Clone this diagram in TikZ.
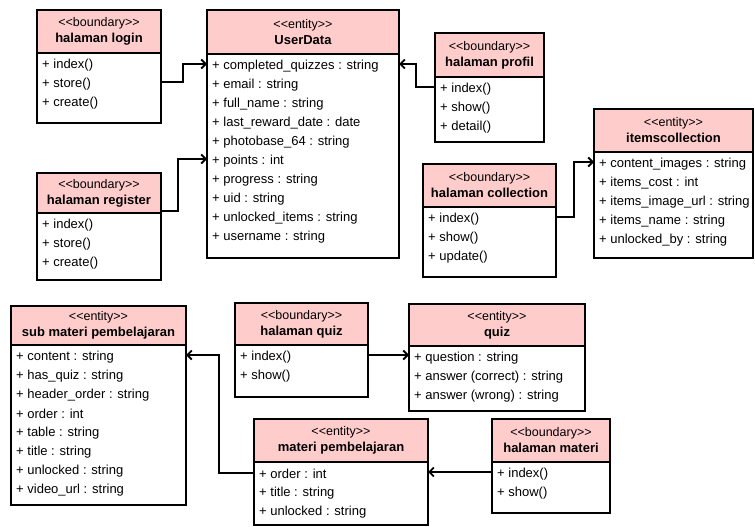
\documentclass[tikz,border=0pt]{standalone}
\usepackage{fontspec}
\setmainfont{Liberation Sans}
\usetikzlibrary{arrows.meta,calc}
\definecolor{hdrpink}{HTML}{FFCCCC}
\tikzset{
  hdr/.style={draw=black, fill=hdrpink, line width=2pt, rectangle, inner sep=0pt, outer sep=0pt, align=center, font=\fontsize{12.5}{16}\selectfont},
  bodybox/.style={draw=black, fill=white, line width=2pt, rectangle, inner sep=0pt, outer sep=0pt},
  rowtext/.style={inner sep=0pt, anchor=west, font=\fontsize{13}{15}\selectfont},
  conn/.style={draw=black, line width=1.8pt, -{Straight Barb[length=4.5pt,width=9pt,line width=1.8pt]}},
}
\newcommand{\umlclass}[9]{%
  \node[hdr, minimum width={#3-#2}, minimum height={#5-#4}, anchor=north west] (#1) at (#2,#4)
    {\fontsize{12.5}{16}\selectfont <\kern0pt<#7>\kern0pt>\\ \fontsize{13}{16}\selectfont\bfseries #8};
  \node[bodybox, minimum width={#3-#2}, minimum height={#6-#5}, anchor=north west] (#1b) at (#1.south west) {};
  \foreach \r [count=\i from 0] in {#9}
    \node[rowtext] at ([xshift=5pt, yshift={-(12+19*\i)}]#1b.north west) {\r};
}
\begin{document}
\begin{tikzpicture}[x=1pt,y=-1pt]
\useasboundingbox (0,0) rectangle (755,527);

\umlclass{login}{37}{161}{10}{53}{123}{boundary}{halaman login}{+ index(), + store(), + create()}
\umlclass{user}{207}{399}{10}{54}{258}{entity}{UserData}{%
  + completed\_quizzes : string, + email : string, + full\_name : string,
  + last\_reward\_date : date, + photobase\_64 : string, + points : int,
  + progress : string, + uid : string, + unlocked\_items : string, + username : string}
\umlclass{register}{37}{161}{173}{213}{280}{boundary}{halaman register}{+ index(), + store(), + create()}
\umlclass{profil}{435}{544}{33}{77}{142}{boundary}{halaman profil}{+ index(), + show(), + detail()}
\umlclass{collection}{423}{556}{164}{207}{277}{boundary}{halaman collection}{+ index(), + show(), + update()}
\umlclass{items}{594}{753}{109}{152}{258}{entity}{itemscollection}{%
  + content\_images : string, + items\_cost : int, + items\_image\_url : string,
  + items\_name : string, + unlocked\_by : string}
\umlclass{submateri}{11}{186}{306}{345}{505}{entity}{sub materi pembelajaran}{%
  + content : string, + has\_quiz : string, + header\_order : string, + order : int,
  + table : string, + title : string, + unlocked : string, + video\_url : string}
\umlclass{hquiz}{235}{368}{303}{345}{397}{boundary}{halaman quiz}{+ index(), + show()}
\umlclass{quiz}{409}{585}{304}{346}{411}{entity}{quiz}{%
  + question : string, + answer (correct) : string, + answer (wrong) : string}
\umlclass{materi}{254}{428}{419}{462}{525}{entity}{materi pembelajaran}{%
  + order : int, + title : string, + unlocked : string}
\umlclass{hmateri}{492}{610}{419}{462}{513}{boundary}{halaman materi}{+ index(), + show()}

% connectors
\draw[conn] ([yshift=-29pt]loginb.north east) -- ++(22,0) |- ([yshift=-10pt]userb.north west);
\draw[conn] ([yshift=2pt]registerb.north east) -- ++(17,0) |- ([yshift=-105pt]userb.north west);
\draw[conn] ([yshift=-10pt]profilb.north west) -- ++(-19,0) |- ([yshift=-10pt]userb.north east);
\draw[conn] ([yshift=-10pt]collectionb.north east) -- ++(18,0) |- ([yshift=-10pt]itemsb.north west);
\coordinate (qs) at ([yshift=-10pt]hquizb.north east);
\draw[conn] (qs) -- (qs -| quizb.west);
\draw[conn] ([yshift=-11pt]materib.north west) -- ++(-35,0) |- ([yshift=-10pt]submaterib.north east);
\coordinate (ms) at ([yshift=-10pt]hmaterib.north west);
\draw[conn] (ms) -- (ms -| materib.east);
\end{tikzpicture}
\end{document}
